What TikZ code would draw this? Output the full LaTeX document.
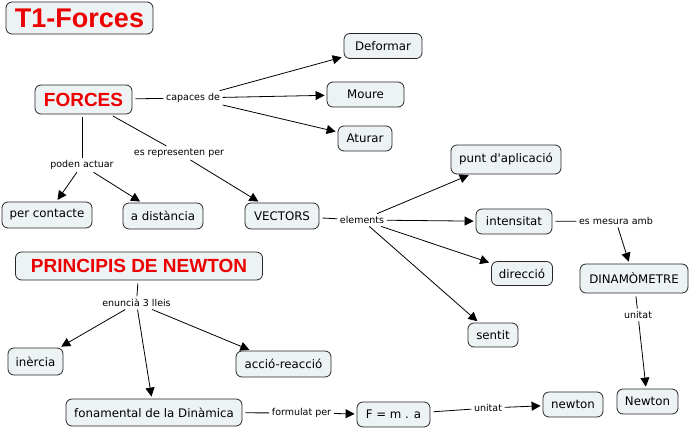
\documentclass[tikz,border=0pt]{standalone}
\usepackage{fontspec}
\setmainfont{DejaVu Sans}
\newfontfamily\titlefont{Liberation Sans}
\usetikzlibrary{arrows.meta}
\definecolor{boxfill}{HTML}{EDF2F5}
\definecolor{titlered}{RGB}{236,0,0}
\begin{document}
\begin{tikzpicture}[x=1pt,y=-1pt,
  box/.style={draw=black!85, fill=boxfill, rounded corners=6pt, line width=0.8pt,
    inner sep=0pt, font=\fontsize{11.8}{14}\selectfont},
  ttl/.style={box, text=titlered, font=\titlefont\bfseries\fontsize{19}{22}\selectfont},
  lbl/.style={inner sep=2.5pt, font=\fontsize{9.5}{11}\selectfont},
  conn/.style={line width=0.8pt, shorten <=3pt},
  arr/.style={line width=0.8pt, shorten >=2pt, -{Triangle[length=9pt,width=9pt]}}
]
\useasboundingbox (0,0) rectangle (691,429);
% concept nodes
\node[ttl, minimum width=147pt, minimum height=32pt, font=\titlefont\bfseries\fontsize{27}{30}\selectfont] (t1) at (79.5,18) {T1-Forces};
\node[ttl, minimum width=97pt, minimum height=29pt] (forces) at (83.5,99.5) {FORCES};
\node[ttl, minimum width=247pt, minimum height=28pt] (principis) at (139,266) {PRINCIPIS DE NEWTON};
\node[box, minimum width=78pt, minimum height=25pt] (deformar) at (383,46) {Deformar};
\node[box, minimum width=77pt, minimum height=25pt] (moure) at (365.5,94.5) {Moure};
\node[box, minimum width=54pt, minimum height=25pt] (aturar) at (365,138.5) {Aturar};
\node[box, minimum width=90pt, minimum height=26pt] (percont) at (47,215) {per contacte};
\node[box, minimum width=80pt, minimum height=26pt] (adist) at (163,216) {a distància};
\node[box, minimum width=74pt, minimum height=26pt] (vectors) at (282,216) {VECTORS};
\node[box, minimum width=110pt, minimum height=29pt] (punt) at (506,159.5) {punt d\textquotesingle aplicació};
\node[box, minimum width=76pt, minimum height=25pt] (intens) at (514,221.5) {intensitat};
\node[box, minimum width=61pt, minimum height=24pt] (direccio) at (522,273.5) {direcció};
\node[box, minimum width=108pt, minimum height=29pt] (dinam) at (634,278.5) {DINAMÒMETRE};
\node[box, minimum width=50pt, minimum height=24pt] (sentit) at (493,335) {sentit};
\node[box, minimum width=55pt, minimum height=27pt] (inercia) at (35.5,361.5) {inèrcia};
\node[box, minimum width=95pt, minimum height=26pt] (accio) at (283.5,364) {acció-reacció};
\node[box, minimum width=176pt, minimum height=27pt] (fonam) at (154,412.5) {fonamental de la Dinàmica};
\node[box, minimum width=73pt, minimum height=25pt] (fma) at (393.5,414.5) {F = m . a};
\node[box, minimum width=60pt, minimum height=25pt] (newtonS) at (573,404.5) {newton};
\node[box, minimum width=61pt, minimum height=25pt] (newtonB) at (647.5,401.5) {Newton};
% link labels
\node[lbl] (capaces) at (193,98) {capaces de};
\node[lbl] (poden) at (82,165) {poden actuar};
\node[lbl] (esrep) at (179,153) {es representen per};
\node[lbl] (elements) at (362,220) {elements};
\node[lbl] (mesura) at (616,221) {es mesura amb};
\node[lbl] (unitat1) at (638,315) {unitat};
\node[lbl] (enuncia) at (136.5,303) {enuncià 3 lleis};
\node[lbl] (formulat) at (301.5,413) {formulat per};
\node[lbl] (unitat2) at (488,408) {unitat};
% connectors
\draw[conn] (forces) -- (capaces);
\draw[arr] (capaces) -- (deformar);
\draw[arr] (capaces) -- (moure);
\draw[arr] (capaces) -- (aturar);
\draw[conn] (forces.south -| poden) -- (poden);
\draw[arr] (poden) -- (percont);
\draw[arr] (poden) -- (adist);
\draw[conn] (forces) -- (esrep);
\draw[arr] (esrep) -- (vectors);
\draw[conn] (vectors) -- (elements);
\draw[arr] (elements) -- (punt);
\draw[arr] (elements) -- (intens);
\draw[arr] (elements) -- (direccio);
\draw[arr] (elements) -- (sentit);
\draw[conn] (intens) -- (mesura);
\draw[arr] (mesura) -- (dinam);
\draw[conn] (dinam) -- (unitat1);
\draw[arr] (unitat1) -- (newtonB);
\draw[conn] (principis) -- (enuncia);
\draw[arr] (enuncia) -- (inercia);
\draw[arr] (enuncia) -- (fonam);
\draw[arr] (enuncia) -- (accio);
\draw[conn] (fonam) -- (formulat);
\draw[arr] (formulat) -- (fma);
\draw[conn] (fma) -- (unitat2);
\draw[arr] (unitat2) -- (newtonS);
\end{tikzpicture}
\end{document}
